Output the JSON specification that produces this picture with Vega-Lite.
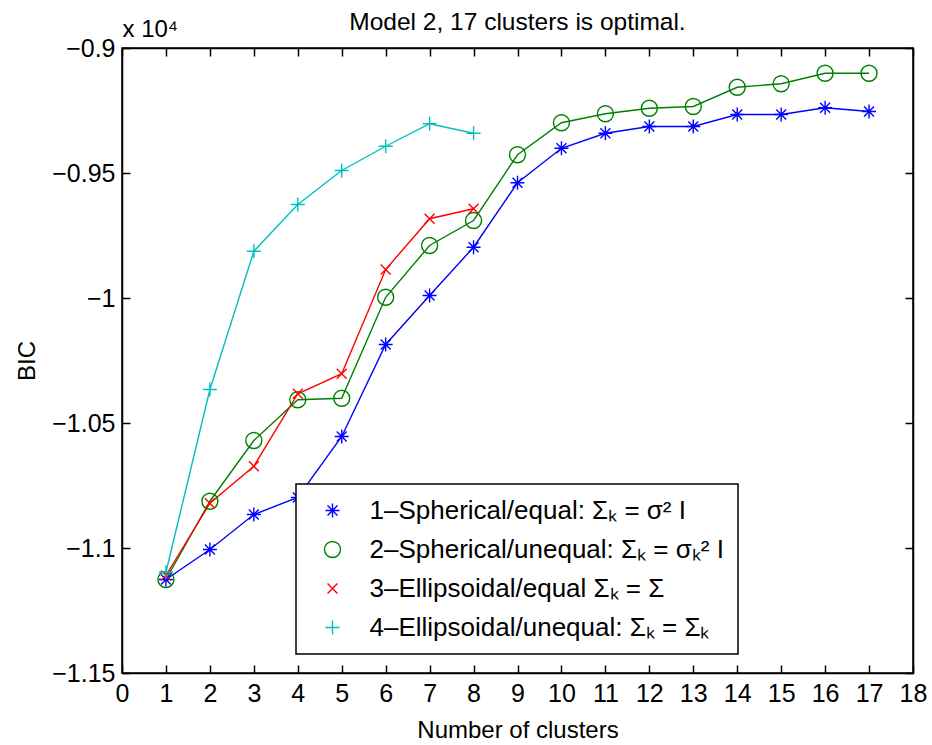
{
  "$schema": "https://vega.github.io/schema/vega-lite/v6.json",
  "width": 791,
  "height": 625,
  "autosize": {"type": "none"},
  "padding": {"left": 122, "top": 48, "right": 19, "bottom": 72},
  "background": "white",
  "title": {"text": "Model 2, 17 clusters is optimal.", "fontSize": 24.5, "fontWeight": "normal", "font": "Liberation Sans", "color": "black", "anchor": "middle", "offset": -18},
  "config": {
    "font": "Liberation Sans",
    "view": {"stroke": "black", "strokeWidth": 1.5},
    "axis": {"domainColor": "black", "domainWidth": 1.5, "tickColor": "black", "tickWidth": 1.5, "tickSize": -8, "labelFontSize": 25, "titleFontSize": 24, "titleFontWeight": "normal", "labelColor": "black", "titleColor": "black", "grid": false, "labelFont": "Liberation Sans", "titleFont": "Liberation Sans", "labelFlush": false, "labelOverlap": false},
    "legend": {"strokeWidth": 1.5}
  },
  "data": {"values": [
    {"k": 1, "model": "1–Spherical/equal: Σₖ = σ² I", "bic": -1.1126},
    {"k": 2, "model": "1–Spherical/equal: Σₖ = σ² I", "bic": -1.1006},
    {"k": 3, "model": "1–Spherical/equal: Σₖ = σ² I", "bic": -1.0866},
    {"k": 4, "model": "1–Spherical/equal: Σₖ = σ² I", "bic": -1.0798},
    {"k": 5, "model": "1–Spherical/equal: Σₖ = σ² I", "bic": -1.0554},
    {"k": 6, "model": "1–Spherical/equal: Σₖ = σ² I", "bic": -1.0186},
    {"k": 7, "model": "1–Spherical/equal: Σₖ = σ² I", "bic": -0.999},
    {"k": 8, "model": "1–Spherical/equal: Σₖ = σ² I", "bic": -0.9797},
    {"k": 9, "model": "1–Spherical/equal: Σₖ = σ² I", "bic": -0.9539},
    {"k": 10, "model": "1–Spherical/equal: Σₖ = σ² I", "bic": -0.9401},
    {"k": 11, "model": "1–Spherical/equal: Σₖ = σ² I", "bic": -0.9341},
    {"k": 12, "model": "1–Spherical/equal: Σₖ = σ² I", "bic": -0.9314},
    {"k": 13, "model": "1–Spherical/equal: Σₖ = σ² I", "bic": -0.9314},
    {"k": 14, "model": "1–Spherical/equal: Σₖ = σ² I", "bic": -0.9266},
    {"k": 15, "model": "1–Spherical/equal: Σₖ = σ² I", "bic": -0.9266},
    {"k": 16, "model": "1–Spherical/equal: Σₖ = σ² I", "bic": -0.9239},
    {"k": 17, "model": "1–Spherical/equal: Σₖ = σ² I", "bic": -0.9254},
    {"k": 1, "model": "2–Spherical/unequal: Σₖ = σₖ² I", "bic": -1.1126},
    {"k": 2, "model": "2–Spherical/unequal: Σₖ = σₖ² I", "bic": -1.0813},
    {"k": 3, "model": "2–Spherical/unequal: Σₖ = σₖ² I", "bic": -1.057},
    {"k": 4, "model": "2–Spherical/unequal: Σₖ = σₖ² I", "bic": -1.0407},
    {"k": 5, "model": "2–Spherical/unequal: Σₖ = σₖ² I", "bic": -1.0401},
    {"k": 6, "model": "2–Spherical/unequal: Σₖ = σₖ² I", "bic": -0.9997},
    {"k": 7, "model": "2–Spherical/unequal: Σₖ = σₖ² I", "bic": -0.979},
    {"k": 8, "model": "2–Spherical/unequal: Σₖ = σₖ² I", "bic": -0.969},
    {"k": 9, "model": "2–Spherical/unequal: Σₖ = σₖ² I", "bic": -0.9427},
    {"k": 10, "model": "2–Spherical/unequal: Σₖ = σₖ² I", "bic": -0.9299},
    {"k": 11, "model": "2–Spherical/unequal: Σₖ = σₖ² I", "bic": -0.9263},
    {"k": 12, "model": "2–Spherical/unequal: Σₖ = σₖ² I", "bic": -0.9241},
    {"k": 13, "model": "2–Spherical/unequal: Σₖ = σₖ² I", "bic": -0.9234},
    {"k": 14, "model": "2–Spherical/unequal: Σₖ = σₖ² I", "bic": -0.9157},
    {"k": 15, "model": "2–Spherical/unequal: Σₖ = σₖ² I", "bic": -0.9143},
    {"k": 16, "model": "2–Spherical/unequal: Σₖ = σₖ² I", "bic": -0.9101},
    {"k": 17, "model": "2–Spherical/unequal: Σₖ = σₖ² I", "bic": -0.9101},
    {"k": 1, "model": "3–Ellipsoidal/equal Σₖ = Σ", "bic": -1.111},
    {"k": 2, "model": "3–Ellipsoidal/equal Σₖ = Σ", "bic": -1.0821},
    {"k": 3, "model": "3–Ellipsoidal/equal Σₖ = Σ", "bic": -1.0673},
    {"k": 4, "model": "3–Ellipsoidal/equal Σₖ = Σ", "bic": -1.0383},
    {"k": 5, "model": "3–Ellipsoidal/equal Σₖ = Σ", "bic": -1.0303},
    {"k": 6, "model": "3–Ellipsoidal/equal Σₖ = Σ", "bic": -0.9886},
    {"k": 7, "model": "3–Ellipsoidal/equal Σₖ = Σ", "bic": -0.9683},
    {"k": 8, "model": "3–Ellipsoidal/equal Σₖ = Σ", "bic": -0.9643},
    {"k": 1, "model": "4–Ellipsoidal/unequal: Σₖ = Σₖ", "bic": -1.1097},
    {"k": 2, "model": "4–Ellipsoidal/unequal: Σₖ = Σₖ", "bic": -1.0366},
    {"k": 3, "model": "4–Ellipsoidal/unequal: Σₖ = Σₖ", "bic": -0.9813},
    {"k": 4, "model": "4–Ellipsoidal/unequal: Σₖ = Σₖ", "bic": -0.9626},
    {"k": 5, "model": "4–Ellipsoidal/unequal: Σₖ = Σₖ", "bic": -0.949},
    {"k": 6, "model": "4–Ellipsoidal/unequal: Σₖ = Σₖ", "bic": -0.9393},
    {"k": 7, "model": "4–Ellipsoidal/unequal: Σₖ = Σₖ", "bic": -0.9303},
    {"k": 8, "model": "4–Ellipsoidal/unequal: Σₖ = Σₖ", "bic": -0.9341}
  ]},
  "layer": [
    {
      "mark": {"type": "line", "strokeWidth": 1.4},
      "encoding": {
        "x": {"field": "k", "type": "quantitative", "scale": {"domain": [0, 18], "nice": false, "zero": false},
              "axis": {"orient": "bottom", "values": [0,1,2,3,4,5,6,7,8,9,10,11,12,13,14,15,16,17,18], "title": "Number of clusters", "labelFontSize": 25, "labelFlush": false, "labelPadding": 16, "titlePadding": 12}},
        "y": {"field": "bic", "type": "quantitative", "scale": {"domain": [-1.15, -0.9], "nice": false, "zero": false},
              "axis": {"orient": "left", "values": [-1.15, -1.1, -1.05, -1, -0.95, -0.9], "format": "~g", "title": "BIC", "labelFontSize": 25, "labelFlush": false, "labelPadding": 15, "titlePadding": 12}},
        "stroke": {"field": "model", "type": "nominal", "legend": null,
                  "scale": {"range": ["#0000ff", "#008000", "#ff0000", "#00bfbf"]}},
        "detail": {"field": "model"}
      }
    },
    {
      "mark": {"type": "point", "filled": false, "strokeWidth": 1.4, "size": 256, "opacity": 1},
      "encoding": {
        "x": {"field": "k", "type": "quantitative",
              "axis": {"orient": "top", "values": [0,1,2,3,4,5,6,7,8,9,10,11,12,13,14,15,16,17,18], "labels": false, "title": "x 10⁴", "titleAnchor": "start", "titleAlign": "left", "titleX": 0, "titleY": -12, "titleBaseline": "alphabetic"}},
        "y": {"field": "bic", "type": "quantitative",
              "axis": {"orient": "right", "values": [-1.15, -1.1, -1.05, -1, -0.95, -0.9], "labels": false, "title": null}},
        "color": {"field": "model", "type": "nominal",
                  "scale": {"range": ["#0000ff", "#008000", "#ff0000", "#00bfbf"]},
                  "legend": {"orient": "none", "legendX": 174, "legendY": 436, "title": null, "strokeColor": "black", "fillColor": "white", "padding": 13.5, "labelFontSize": 26, "labelFont": "Liberation Sans", "labelColor": "black", "symbolStrokeWidth": 1.4, "symbolSize": 256, "rowPadding": 13, "symbolOffset": 10, "labelOffset": 24, "labelLimit": 600}},
        "shape": {"field": "model", "type": "nominal",
                  "scale": {"range": ["M-0.875,0L0.875,0M0,-0.875L0,0.875M-0.62,-0.62L0.62,0.62M-0.62,0.62L0.62,-0.62", "circle", "M-0.62,-0.62L0.62,0.62M-0.62,0.62L0.62,-0.62", "M-0.875,0L0.875,0M0,-0.875L0,0.875"]},
                  "legend": {"orient": "none", "legendX": 174, "legendY": 436, "title": null, "strokeColor": "black", "fillColor": "white", "padding": 13.5, "labelFontSize": 26, "labelFont": "Liberation Sans", "labelColor": "black", "symbolStrokeWidth": 1.4, "symbolSize": 256, "rowPadding": 13, "symbolOffset": 10, "labelOffset": 24, "labelLimit": 600}}
      }
    }
  ],
  "resolve": {"axis": {"x": "independent", "y": "independent"}}
}
